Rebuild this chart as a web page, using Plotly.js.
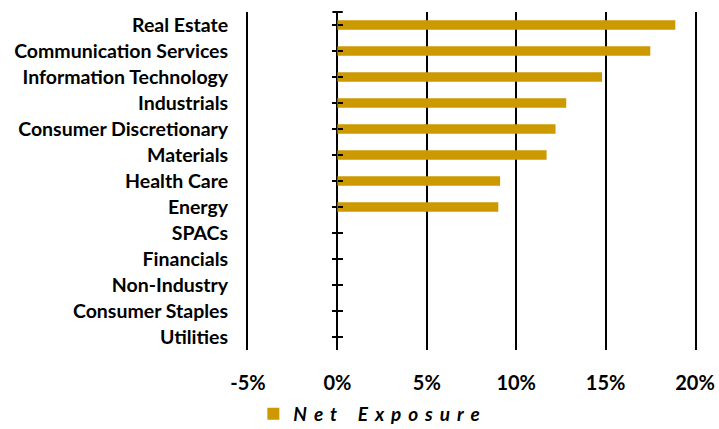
<!DOCTYPE html>
<html>
<head>
<meta charset="utf-8">
<script src="https://cdn.plot.ly/plotly-3.0.1.min.js"></script>
<style>html,body{margin:0;padding:0;background:#fff;}#chart{width:719px;height:429px;}</style>
</head>
<body>
<div id="chart"></div>
<script>
const categories = ["Real Estate","Communication Services","Information Technology","Industrials","Consumer Discretionary","Materials","Health Care","Energy","SPACs","Financials","Non-Industry","Consumer Staples","Utilities"];
const netExposure = [18.9, 17.5, 14.8, 12.8, 12.2, 11.7, 9.1, 9.0, 0, 0, 0, 0, 0];
const xTickVals = [-5, 0, 5, 10, 15, 20];
const xTickText = ["-5%", "0%", "5%", "10%", "15%", "20%"];
const G = "\u2004\u200A";
const seriesName = ["N","e","t"].join(G) + G + G + G + ["E","x","p","o","s","u","r","e"].join(G);

const FONT = "Lato, 'Open Sans', sans-serif";
const GOLD = "#CC9900";

const main = {
  type: "bar", orientation: "h",
  x: netExposure, y: categories,
  name: seriesName,
  marker: {color: GOLD},
  width: 0.36,
  hoverinfo: "x+y"
};
const ghost = (ax) => ({
  type: "bar", orientation: "h",
  x: netExposure, y: categories, yaxis: ax,
  opacity: 0, showlegend: false, hoverinfo: "skip", width: 0.36
});

const catAxisCommon = {
  type: "category",
  categoryorder: "array",
  categoryarray: categories,
  range: [categories.length - 0.5, -0.5]
};

const layout = {
  width: 719, height: 429,
  margin: {l: 248, r: 24, t: 12, b: 79, autoexpand: false},
  paper_bgcolor: "#fff", plot_bgcolor: "#fff",
  font: {family: FONT, color: "#000"},
  showlegend: true,
  xaxis: {
    range: [-5, 20],
    tickvals: xTickVals, ticktext: xTickText,
    showgrid: true, gridcolor: "#000", gridwidth: 2,
    zeroline: true, zerolinecolor: "#000", zerolinewidth: 2,
    showline: false,
    ticks: "outside", ticklen: 15, tickcolor: "rgba(0,0,0,0)",
    tickfont: {family: FONT, size: 20, color: "#000", weight: "bold"},
    fixedrange: true
  },
  yaxis: Object.assign({}, catAxisCommon, {
    showgrid: false, zeroline: false,
    showline: true, mirror: true, linecolor: "#000", linewidth: 2,
    ticks: "outside", ticklen: 14, tickcolor: "rgba(0,0,0,0)",
    tickfont: {family: FONT, size: 19.5, color: "#000", weight: "bold"},
    fixedrange: true
  }),
  yaxis2: Object.assign({}, catAxisCommon, {
    overlaying: "y", anchor: "free", position: 0.2, side: "left",
    showgrid: false, zeroline: false, showline: false,
    ticks: "outside", ticklen: 5, tickwidth: 2, tickcolor: "#000",
    showticklabels: false, fixedrange: true
  }),
  yaxis3: Object.assign({}, catAxisCommon, {
    overlaying: "y", anchor: "free", position: 0.2, side: "right",
    showgrid: false, zeroline: false, showline: false,
    ticks: "outside", ticklen: 5, tickwidth: 2, tickcolor: "#000",
    showticklabels: false, fixedrange: true
  }),
  shapes: [{
    type: "line", xref: "x", yref: "paper",
    x0: -0.28, x1: 0.3, y0: 1, y1: 1,
    line: {color: "#000", width: 2}
  }],
  legend: {
    orientation: "h",
    x: 0.012, xanchor: "left",
    yref: "container",
    y: 0.035, yanchor: "middle",
    font: {family: FONT, size: 19, color: "#000", weight: "bold", style: "italic"},
    bgcolor: "rgba(0,0,0,0)"
  }
};

Plotly.newPlot("chart", [ghost("y2"), ghost("y3"), main], layout, {displayModeBar: false, staticPlot: true});
</script>
</body>
</html>
